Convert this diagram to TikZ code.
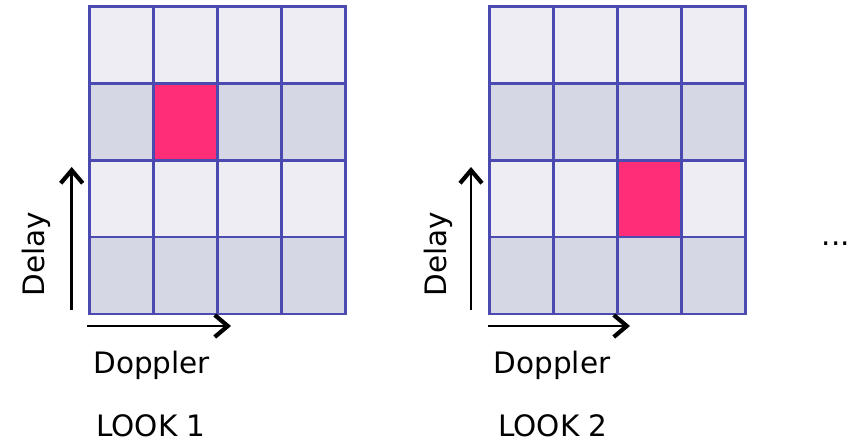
\documentclass[tikz,border=0pt]{standalone}
\usepackage{fontspec}
\setmainfont{DejaVu Sans}
\usetikzlibrary{arrows.meta}
\definecolor{gridline}{HTML}{4A4AB0}
\definecolor{celllight}{HTML}{EDEDF3}
\definecolor{celldark}{HTML}{D5D7E5}
\definecolor{cellhit}{HTML}{FF2D78}
\tikzset{
  gridpen/.style={draw=gridline, line width=2.6pt, line cap=rect},
  axisarrow/.style={line width=2.6pt, -{Straight Barb[length=13pt,width=22pt,line width=4.2pt]}},
  lbl/.style={font=\fontsize{29.5}{32}\selectfont, inner sep=0pt, text=black},
}
\newcommand{\lookgrid}[4]{%
  % #1 x-left, #2 y-top, #3 hit column (0-3), #4 hit row (0-3 from top)
  \foreach \r in {0,...,3}{
    \foreach \c in {0,...,3}{
      \pgfmathtruncatemacro{\odd}{mod(\r,2)}
      \ifnum\odd=0 \def\fc{celllight}\else\def\fc{celldark}\fi
      \ifnum\c=#3 \ifnum\r=#4 \def\fc{cellhit}\fi\fi
      \fill[\fc] ({#1+\c*64},{#2+\r*76.8}) rectangle ++(64,76.8);
    }
  }
  \foreach \c in {0,...,4}{\draw[gridpen] ({#1+\c*64},#2) -- ++(0,307.2);}
  \foreach \r in {0,...,4}{\draw[gridpen] (#1,{#2+\r*76.8}) -- ++(256,0);}
}
\begin{document}
\begin{tikzpicture}[x=1pt,y=-1pt]
\useasboundingbox[fill=white] (0,0) rectangle (851,442);
% LOOK 1
\lookgrid{89.3}{6.7}{1}{1}
\coordinate (v1s) at (71.7,310);
\coordinate (v1e) at (71.7,167);
\coordinate (h1s) at (87.3,326);
\coordinate (h1e) at (231,326);
\draw[axisarrow] (v1s) -- (v1e);
\draw[axisarrow] (h1s) -- (h1e);
\node[lbl, rotate=90, anchor=base] (delay1) at (44,254) {Delay};
\node[lbl, anchor=base] (dop1) at (151.7,373) {Doppler};
\node[lbl, anchor=base] (look1) at (151,436.5) {LOOK 1};
% LOOK 2
\lookgrid{489.3}{6.7}{2}{2}
\coordinate (v2s) at (471,310);
\coordinate (v2e) at (471,167);
\coordinate (h2s) at (488.3,326);
\coordinate (h2e) at (630,326);
\draw[axisarrow] (v2s) -- (v2e);
\draw[axisarrow] (h2s) -- (h2e);
\node[lbl, rotate=90, anchor=base] (delay2) at (446,254) {Delay};
\node[lbl, anchor=base] (dop2) at (552,373) {Doppler};
\node[lbl, anchor=base] (look2) at (553,436.5) {LOOK 2};
% ellipsis
\node[lbl, anchor=base east] (dots) at (850,245) {...};
\end{tikzpicture}
\end{document}
